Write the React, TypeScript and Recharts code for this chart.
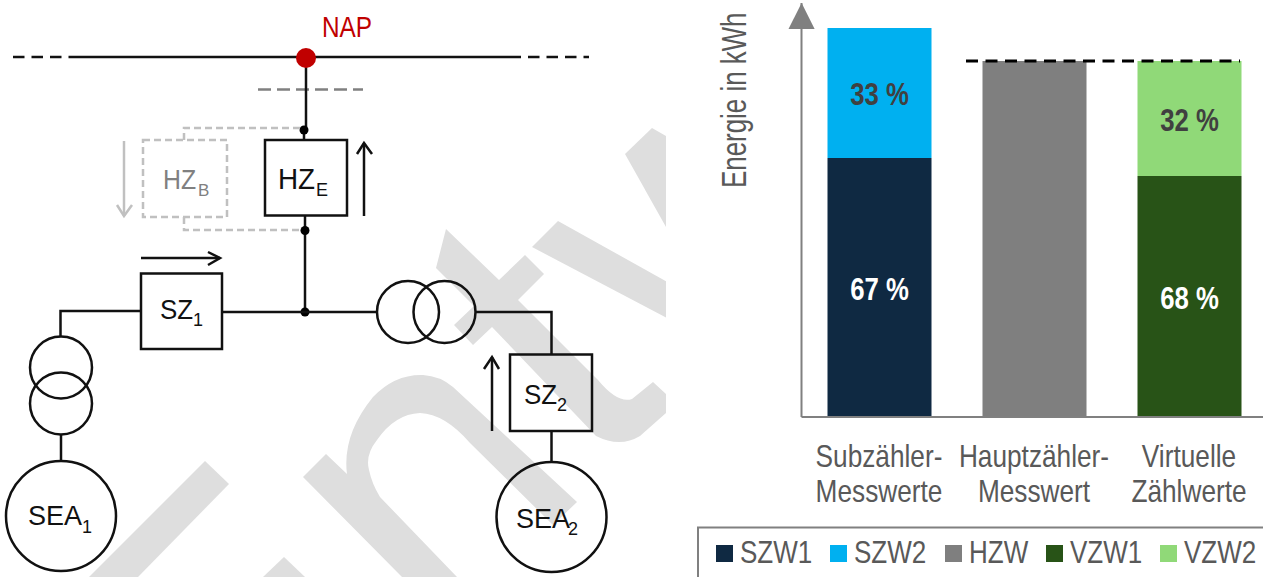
import { Bar, BarChart, LabelList, Legend, ReferenceLine, XAxis, YAxis } from "recharts";

const categories = ["Subzähler-|Messwerte", "Hauptzähler-|Messwert", "Virtuelle|Zählwerte"];
const szw1 = [72.75, 0, 0];
const szw2 = [36.5, 0, 0];
const hzw = [0, 100, 0];
const vzw1 = [0, 0, 67.7];
const vzw2 = [0, 0, 32.3];
const szw1Labels = ["67 %", "", ""];
const szw2Labels = ["33 %", "", ""];
const vzw1Labels = ["", "", "68 %"];
const vzw2Labels = ["", "", "32 %"];
const yMax = 116.3;
const hauptzaehlerLevel = 100;

const rows = categories.map((category, i) => ({
  category,
  SZW1: szw1[i],
  SZW2: szw2[i],
  HZW: hzw[i],
  VZW1: vzw1[i],
  VZW2: vzw2[i],
  szw1Label: szw1Labels[i],
  szw2Label: szw2Labels[i],
  vzw1Label: vzw1Labels[i],
  vzw2Label: vzw2Labels[i],
}));

const FONT = '"Liberation Sans", Arial, sans-serif';
const LEGEND_X = [36, 150, 265, 366, 480];

function CategoryTick({ x, y, payload }: any) {
  const [first, second] = String(payload.value).split("|");
  return (
    <g fontFamily={FONT} fontSize={32} fill="#595959" textAnchor="middle">
      <text transform={`translate(${x} ${y + 48}) scale(0.82 1)`}>{first}</text>
      <text transform={`translate(${x} ${y + 83}) scale(0.82 1)`}>{second}</text>
    </g>
  );
}

function percentLabel(fill: string) {
  return ({ x, y, width, height, value }: any) =>
    value ? (
      <text
        transform={`translate(${x + width / 2} ${y + height / 2 + 12}) scale(0.83 1)`}
        textAnchor="middle"
        fontFamily={FONT}
        fontSize={31}
        fontWeight="bold"
        fill={fill}
      >
        {value}
      </text>
    ) : null;
}

function LegendBox({ payload }: any) {
  return (
    <svg width={600} height={51} style={{ display: "block" }}>
      <rect x={18} y={1.5} width={620} height={80} fill="#fff" stroke="#808080" strokeWidth={2} />
      {(payload || []).map((item: any, i: number) => (
        <g key={item.value}>
          <rect x={LEGEND_X[i]} y={19} width={17} height={17} fill={item.color} />
          <text
            transform={`translate(${LEGEND_X[i] + 24} 37) scale(0.84 1)`}
            fontFamily={FONT}
            fontSize={31}
            fill="#595959"
          >
            {item.value}
          </text>
        </g>
      ))}
    </svg>
  );
}

function Label({ x, y, text, sub, subX, size, subSize, squeeze = 1, drop = 7, fill = "#111" }: any) {
  return (
    <g fontFamily={FONT} fill={fill}>
      <text transform={`translate(${x} ${y}) scale(${squeeze} 1)`} fontSize={size}>{text}</text>
      <text x={subX} y={y + drop} fontSize={subSize}>{sub}</text>
    </g>
  );
}

function Schematic() {
  const black = { stroke: "#111", strokeWidth: 2.5, fill: "none" };
  const soft = { stroke: "#c0c0c0", strokeWidth: 2.5, fill: "none", strokeDasharray: "7 4" };
  return (
    <svg width={680} height={577} style={{ position: "absolute", left: 0, top: 0 }}>
      <defs>
        <clipPath id="mark">
          <rect x={0} y={0} width={666} height={577} />
        </clipPath>
      </defs>
      <g clipPath="url(#mark)" fill="#dedede">
        <path d="M652 128 L680 144 L680 252 L625 154 Z" />
        <path d="M558 221 L680 289 L680 325 L532 247 Z" />
        <path d="M446 229 L499 280 L525 255 L544 274 L518 300 L598 380 Q618 404 632 399 L653 382 L666 394 L666 413 L640 436 Q620 448 596 436 L492 327 L473 345 L454 325 L474 306 L436 268 Z" />
        <path d="M326 454 L347 474 Q342 435 373 397 Q395 374 423 375 Q440 376 453 387 L577 502 L553 525 L470 443 Q445 414 420 413 Q395 414 377 440 Q365 455 369 470 Q372 484 380 497 L457 577 L402 577 L303 477 Z" />
        <path d="M205 461 L229 484 L138 577 L89 577 Z" />
        <path d="M284 557 L263 577 L305 577 Z" />
      </g>

      <line x1={13} y1={57} x2={72} y2={57} {...black} strokeDasharray="11.5 7" />
      <line x1={72} y1={57} x2={521} y2={57} {...black} />
      <line x1={528} y1={57} x2={589} y2={57} {...black} strokeDasharray="11.5 7" />
      <line x1={258} y1={89.5} x2={363} y2={89.5} stroke="#808080" strokeWidth={2.5} strokeDasharray="13 6" />

      <line x1={306} y1={58} x2={306} y2={128} {...black} />
      <line x1={304} y1={128} x2={304} y2={140} {...black} />
      <line x1={305} y1={215} x2={305} y2={312} {...black} />
      <circle cx={304} cy={130} r={4.5} fill="#000" />
      <circle cx={305} cy={230.5} r={4.5} fill="#000" />
      <circle cx={305} cy={312} r={4.5} fill="#000" />
      <circle cx={306} cy={58} r={10} fill="#c00000" />
      <text transform="translate(322 37) scale(0.84 1)" fontFamily={FONT} fontSize={29} fill="#c00000">NAP</text>

      <rect x={265} y={140} width={82} height={75.5} {...black} />
      <Label x={278} y={189} text="HZ" sub="E" subX={316} size={29} subSize={18} squeeze={0.96} />
      <line x1={364} y1={216} x2={364} y2={143} {...black} />
      <polyline points="357,154 364,143 372,154" {...black} />

      <rect x={143} y={140} width={84} height={77} {...soft} />
      <path d="M184 140 L184 128 L300 128" {...soft} />
      <path d="M184 217 L184 230 L300 230" {...soft} />
      <Label x={163} y={189} text="HZ" sub="B" subX={198} size={27} subSize={17} squeeze={0.92} fill="#808080" />
      <line x1={124} y1={141} x2={124} y2={216} stroke="#c0c0c0" strokeWidth={2.5} />
      <polyline points="117,205 124,216 132,205" fill="none" stroke="#c0c0c0" strokeWidth={2.5} />

      <line x1={141} y1={258} x2={220} y2={258} {...black} />
      <polyline points="208,252 220,258 208,265" {...black} />
      <rect x={141} y={273.5} width={81} height={75.5} {...black} />
      <Label x={160} y={319} text="SZ" sub="1" subX={193} size={27} subSize={18} squeeze={0.96} />
      <path d="M141 311 L60.5 311 L60.5 336" {...black} />
      <circle cx={61} cy={367.5} r={31} {...black} />
      <circle cx={61} cy={403.5} r={31} {...black} />
      <line x1={61} y1={435} x2={61} y2={461} {...black} />
      <circle cx={61} cy={516} r={55} {...black} />
      <Label x={28} y={525} text="SEA" sub="1" subX={82} size={27} subSize={18} drop={8} />

      <line x1={222} y1={312} x2={377} y2={312} {...black} />
      <circle cx={408} cy={312} r={31} {...black} />
      <circle cx={444.5} cy={312} r={31} {...black} />
      <path d="M476 312 L551.5 312 L551.5 354" {...black} />
      <rect x={510} y={354.5} width={82} height={76.5} {...black} />
      <Label x={524} y={404} text="SZ" sub="2" subX={557} size={27} subSize={18} squeeze={0.96} />
      <line x1={551.5} y1={431} x2={551.5} y2={461} {...black} />
      <circle cx={551.5} cy={517} r={55} {...black} />
      <Label x={516} y={528} text="SEA" sub="2" subX={568} size={27} subSize={18} />
      <line x1={492} y1={431} x2={492} y2={357} {...black} />
      <polyline points="484,369 492,357 499,369" {...black} />
    </svg>
  );
}

export default function App() {
  return (
    <div style={{ position: "absolute", left: 0, top: 0, width: 1263, height: 577, overflow: "hidden", background: "#fff" }}>
      <Schematic />
      <div style={{ position: "absolute", left: 680, top: 0 }}>
        <BarChart
          width={587}
          height={577}
          data={rows}
          barSize={104}
          margin={{ top: 3, right: 0.5, bottom: 9, left: 120.5 }}
        >
          <XAxis
            dataKey="category"
            height={100}
            interval={0}
            tick={<CategoryTick />}
            tickLine={false}
            tickSize={0}
            axisLine={{ stroke: "#808080", strokeWidth: 2 }}
          />
          <YAxis
            width={1}
            domain={[0, yMax]}
            tick={false}
            tickLine={false}
            axisLine={{ stroke: "#808080", strokeWidth: 2 }}
          />
          <Bar dataKey="SZW1" stackId="a" fill="#0f2942" isAnimationActive={false}>
            <LabelList dataKey="szw1Label" content={percentLabel("#ffffff")} />
          </Bar>
          <Bar dataKey="SZW2" stackId="a" fill="#00b0f0" isAnimationActive={false}>
            <LabelList dataKey="szw2Label" content={percentLabel("#404040")} />
          </Bar>
          <Bar dataKey="HZW" stackId="a" fill="#7f7f7f" isAnimationActive={false} />
          <Bar dataKey="VZW1" stackId="a" fill="#285317" isAnimationActive={false}>
            <LabelList dataKey="vzw1Label" content={percentLabel("#ffffff")} />
          </Bar>
          <Bar dataKey="VZW2" stackId="a" fill="#90d978" isAnimationActive={false}>
            <LabelList dataKey="vzw2Label" content={percentLabel("#404040")} />
          </Bar>
          <ReferenceLine
            y={hauptzaehlerLevel}
            shape={({ y1 }: any) => (
              <line x1={286} y1={y1} x2={560} y2={y1} stroke="#000" strokeWidth={3} strokeDasharray="12 7.5" />
            )}
          />
          <Legend
            height={50}
            itemSorter={null}
            content={<LegendBox />}
            wrapperStyle={{ left: 0, top: 526, bottom: "auto", width: 600, height: 51 }}
          />
        </BarChart>
      </div>
      <svg width={130} height={200} style={{ position: "absolute", left: 700, top: 0 }}>
        <text
          transform="translate(46 188) rotate(-90) scale(0.74 1)"
          fontFamily={FONT}
          fontSize={35}
          fill="#595959"
        >
          Energie in kWh
        </text>
        <polygon points="101.6,3 88.5,29 114.6,29" fill="#808080" />
      </svg>
    </div>
  );
}
